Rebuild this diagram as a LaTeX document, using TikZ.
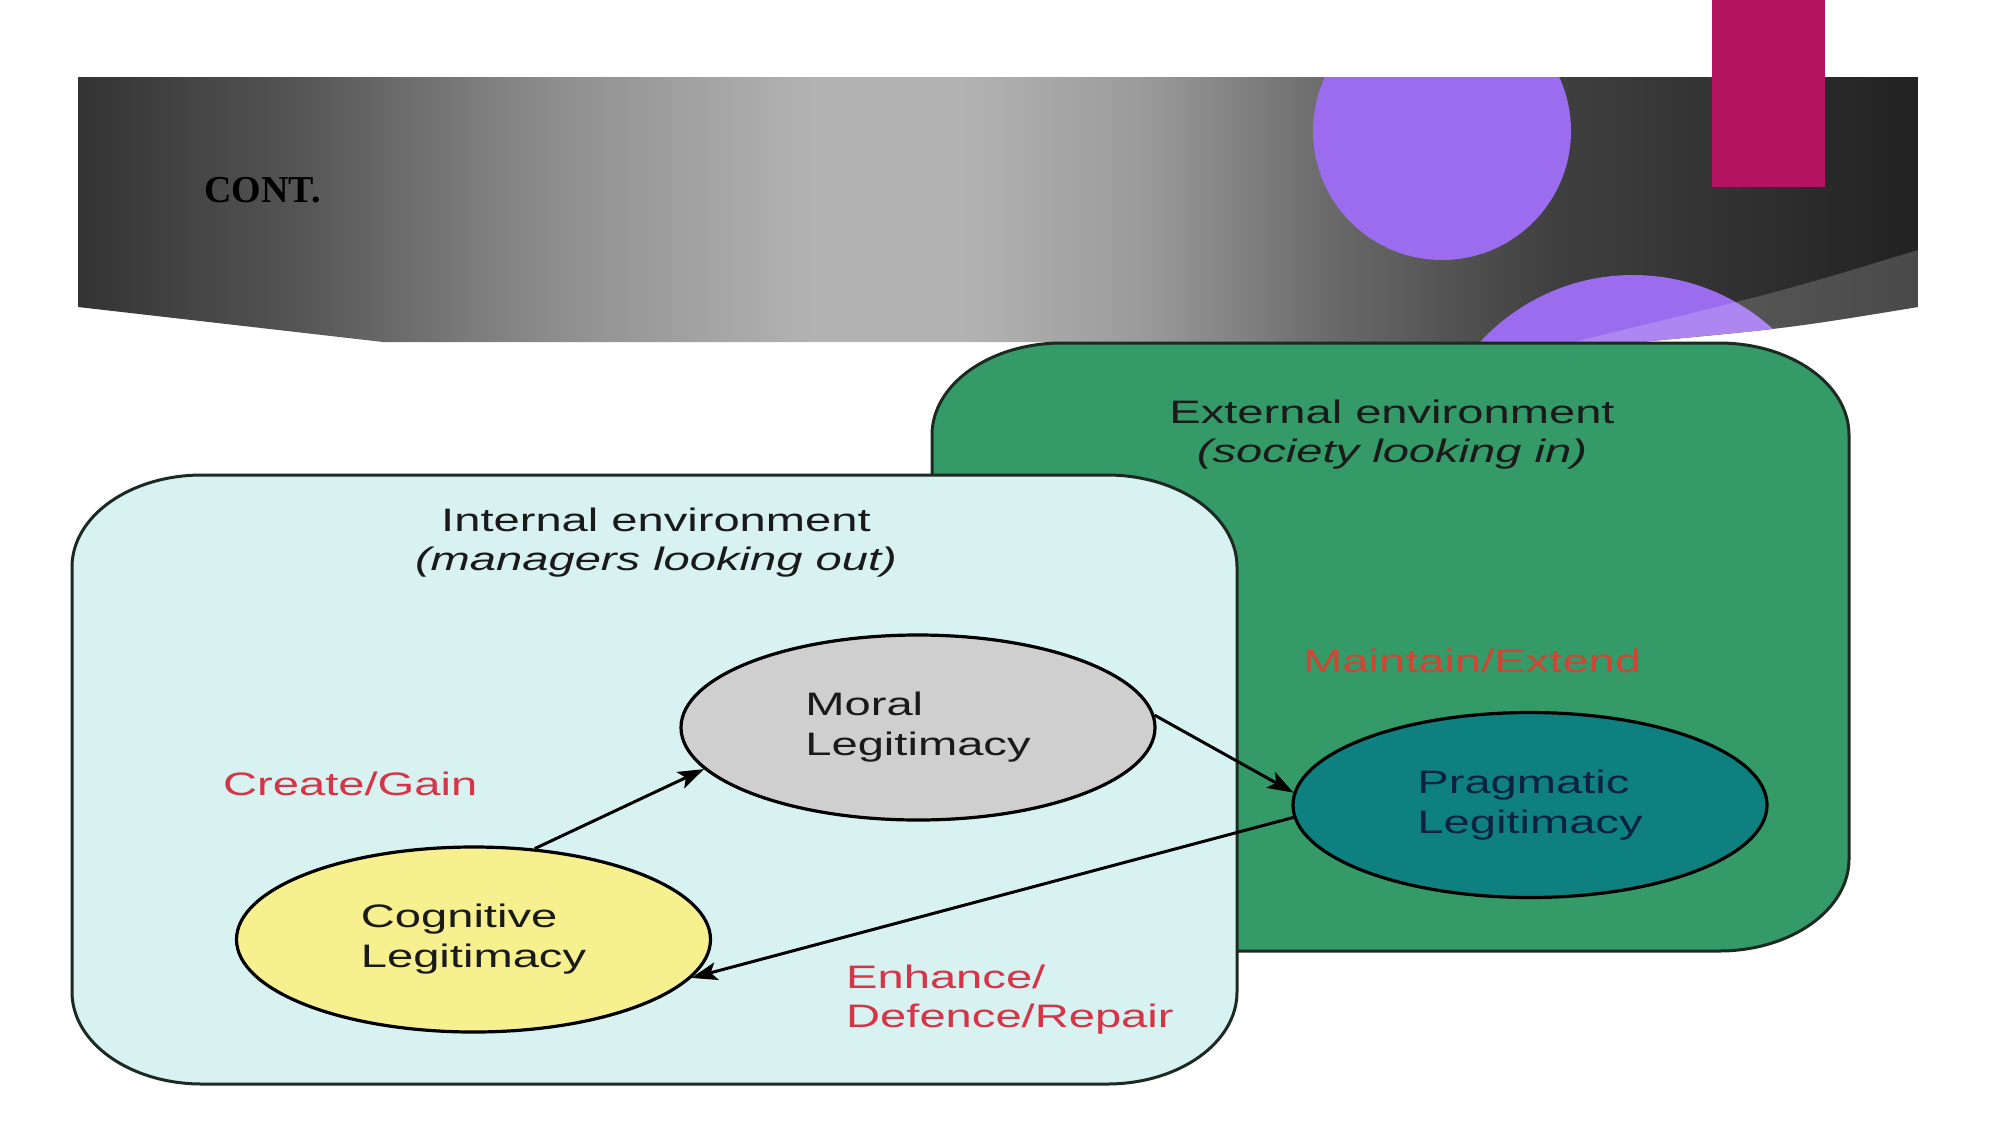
\documentclass[tikz,border=0pt]{standalone}
\usepackage{fontspec}
\setmainfont{Liberation Serif}
\newfontfamily\dg[FakeStretch=1.45]{Liberation Sans}
\usetikzlibrary{arrows.meta,shapes.geometric}
\definecolor{hA}{HTML}{333333}
\definecolor{hB}{HTML}{555555}
\definecolor{hC}{HTML}{8E8E8E}
\definecolor{hD}{HTML}{B3B3B3}
\definecolor{hE}{HTML}{9A9A9A}
\definecolor{hF}{HTML}{6A6A6A}
\definecolor{hG}{HTML}{404040}
\definecolor{hH}{HTML}{222222}
\definecolor{purp}{HTML}{9B6CEE}
\definecolor{mag}{HTML}{B4135F}
\definecolor{extgreen}{HTML}{349A68}
\definecolor{intcyan}{HTML}{D8F2F2}
\definecolor{boxline}{HTML}{1C2A22}
\definecolor{moralgray}{HTML}{CFCFCF}
\definecolor{pragteal}{HTML}{0F8080}
\definecolor{cogyellow}{HTML}{F6F08F}
\definecolor{labred}{HTML}{D63447}
\definecolor{labredg}{HTML}{CF4634}
\definecolor{txt}{HTML}{1A1A1A}
\definecolor{pragtxt}{HTML}{0B2240}
\pgfdeclarehorizontalshading{hdrshade}{100bp}{color(0bp)=(hA); color(25bp)=(hA); color(31bp)=(hB); color(38bp)=(hC); color(45bp)=(hD); color(49bp)=(hD); color(54bp)=(hE); color(59bp)=(hF); color(65bp)=(hG); color(75bp)=(hH); color(100bp)=(hH)}
% #1 options, #2 x0, #3 y0, #4 x1, #5 y1, #6 rx, #7 ry
\newcommand\legenvbox[7]{%
\draw[#1] (#2,#3+#7) .. controls (#2,#3+0.4477*#7) and (#2+0.4477*#6,#3) .. (#2+#6,#3)
 -- (#4-#6,#3) .. controls (#4-0.4477*#6,#3) and (#4,#3+0.4477*#7) .. (#4,#3+#7)
 -- (#4,#5-#7) .. controls (#4,#5-0.4477*#7) and (#4-0.4477*#6,#5) .. (#4-#6,#5)
 -- (#2+#6,#5) .. controls (#2+0.4477*#6,#5) and (#2,#5-0.4477*#7) .. (#2,#5-#7) -- cycle;}
\begin{document}
\begin{tikzpicture}[x=1pt,y=-1pt,
  envbox/.style={draw=boxline, line width=3pt},
  legell/.style={ellipse, draw=black, line width=3.2pt, minimum width=474pt, minimum height=185pt, inner sep=0pt, align=left, font=\dg\fontsize{32.5}{40}\selectfont},
  dglabel/.style={inner sep=0pt, font=\dg\fontsize{32.5}{39.5}\selectfont},
  arr/.style={line width=3pt, -{Stealth[length=26pt,width=18pt,inset=6pt]}}
]
\useasboundingbox (0,0) rectangle (2001,1125);
\fill[white] (0,0) rectangle (2001,1125);
% header band
\shade[shading=hdrshade] (78,77) -- (78,307) -- (383,342) -- (1640,342) .. controls (1790,328) .. (1918,307) -- (1918,77) -- cycle;
\begin{scope}
\clip (78,77) -- (78,307) -- (383,342) -- (1640,342) .. controls (1790,328) .. (1918,307) -- (1918,77) -- cycle;
\fill[purp] (1442,131) circle[radius=129];
\fill[purp] (1633,483) circle[radius=208];
\fill[white, opacity=0.18] (1918,250) .. controls (1780,292) .. (1540,350) -- (1930,350) -- cycle;
\end{scope}
\fill[mag] (1712,0) rectangle (1825,187);
\node[anchor=base west, inner sep=0pt, font=\bfseries\fontsize{38}{45}\selectfont] (title) at (204,202) {CONT.};
% environment boxes
\legenvbox{envbox, fill=extgreen}{932}{343}{1849}{951}{130}{92}
\legenvbox{envbox, fill=intcyan}{72}{475}{1237}{1084}{130}{92}
\node[dglabel, anchor=base, text=txt] (exttitle) at (1392,423) {\begin{tabular}[t]{@{}c@{}}External environment\\ \itshape (society looking in)\end{tabular}};
\node[dglabel, anchor=base, text=txt] (inttitle) at (656,531) {\begin{tabular}[t]{@{}c@{}}Internal environment\\ \itshape (managers looking out)\end{tabular}};
% legitimacy ellipses
\node[legell, fill=moralgray, text=txt] (moral) at (918,727.5) {Moral\\Legitimacy};
\node[legell, fill=pragteal, text=pragtxt] (prag) at (1530,805) {Pragmatic\\Legitimacy};
\node[legell, fill=cogyellow, text=txt] (cog) at (473.5,939.5) {Cognitive\\Legitimacy};
% connectors
\draw[arr] (cog.56) -- (moral.191);
\draw[arr] (moral.3) -- (prag.177);
\draw[arr] (prag.183) -- (cog.350);
% labels
\node[dglabel, anchor=base west, text=labred] (create) at (223,795) {Create/Gain};
\node[dglabel, anchor=base west, text=labredg] (maintain) at (1303,672) {Maintain/Extend};
\node[dglabel, anchor=base west, text=labred] (enhance) at (846,988) {\begin{tabular}[t]{@{}l@{}}Enhance/\\ Defence/Repair\end{tabular}};
\end{tikzpicture}
\end{document}
